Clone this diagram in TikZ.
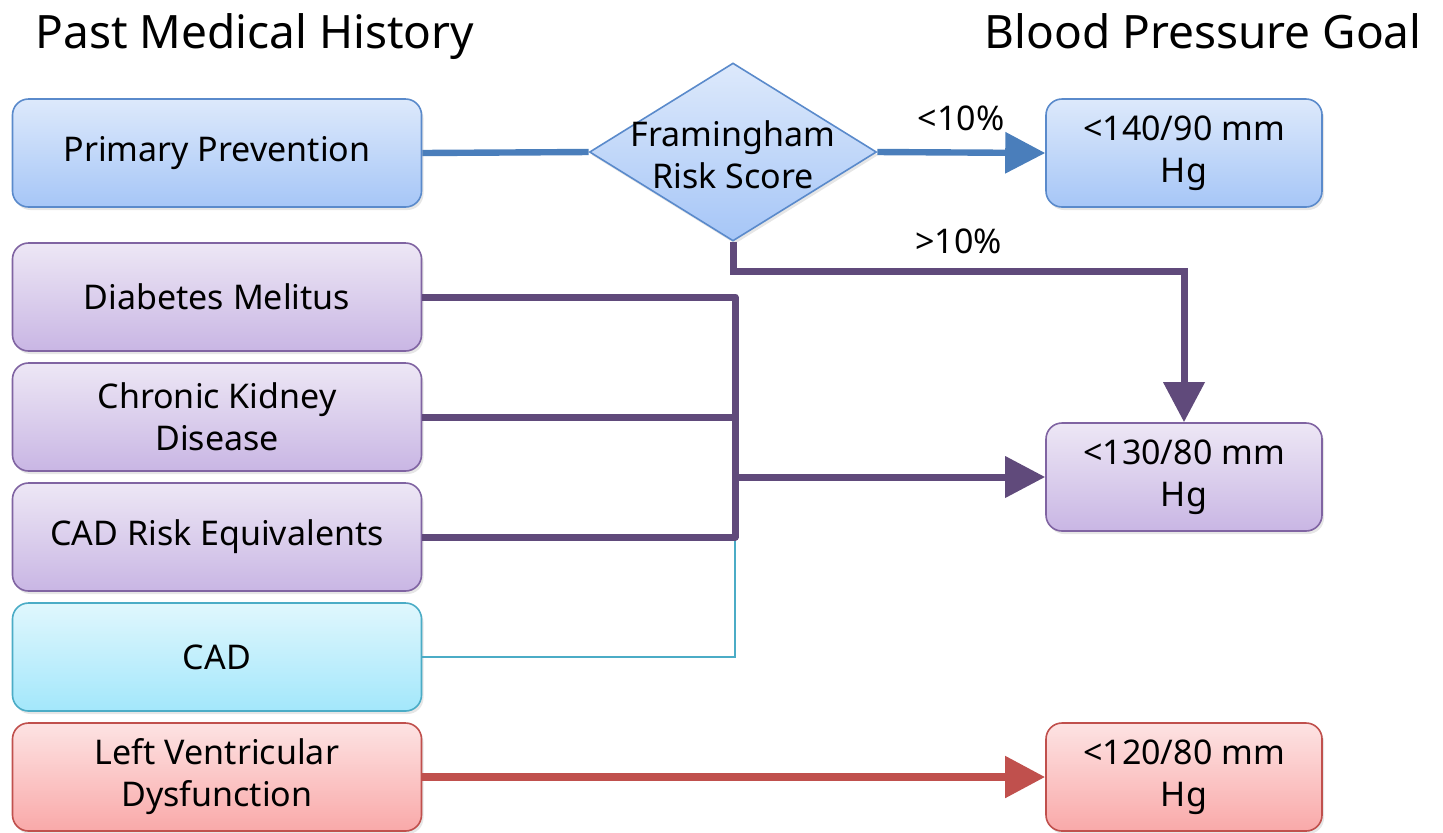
\documentclass[tikz,border=0pt]{standalone}
\usepackage{fontspec}
\setmainfont{Noto Sans}
\usetikzlibrary{shapes.geometric,arrows.meta,shadows}

\definecolor{lnblue}{HTML}{4A7EBB}
\definecolor{lnpurple}{HTML}{604A7B}
\definecolor{lnteal}{HTML}{4BACC6}
\definecolor{lnred}{HTML}{C0504D}
\definecolor{bdblue}{HTML}{5A8ACB}
\definecolor{bdpurple}{HTML}{8064A2}
\definecolor{bdteal}{HTML}{4BACC6}
\definecolor{bdred}{HTML}{C0504D}
\definecolor{flbluetop}{HTML}{DDE9FB}
\definecolor{flbluebot}{HTML}{A6C6F7}
\definecolor{flpurpletop}{HTML}{EDE7F5}
\definecolor{flpurplebot}{HTML}{C9B6E4}
\definecolor{flthealtop}{HTML}{E0F7FD}
\definecolor{flthealbot}{HTML}{A3E7FB}
\definecolor{flredtop}{HTML}{FDE3E3}
\definecolor{flredbot}{HTML}{F9A9A9}

\begin{document}
\begin{tikzpicture}[x=0.5pt,y=-0.5pt]
 \tikzset{hxbox/.style={rectangle, rounded corners=8pt, minimum width=204.5pt, minimum height=54pt,
   inner sep=2pt, align=center, font=\fontsize{17}{21}\selectfont, line width=0.8pt,
   drop shadow={opacity=0.2, shadow xshift=1pt, shadow yshift=-1.5pt}},
  goalbox/.style={hxbox, minimum width=138pt},
  bluebox/.style={draw=bdblue, top color=flbluetop, bottom color=flbluebot},
  purplebox/.style={draw=bdpurple, top color=flpurpletop, bottom color=flpurplebot},
  tealbox/.style={draw=bdteal, top color=flthealtop, bottom color=flthealbot},
  redbox/.style={draw=bdred, top color=flredtop, bottom color=flredbot},
  title/.style={inner sep=0pt, font=\fontsize{23}{27}\selectfont},
  tag/.style={text=black, font=\fontsize{17}{21}\selectfont},
  thickln/.style={line width=3.5pt},
  tip/.style={-{Triangle[length=20pt,width=20pt]}}}
 \useasboundingbox (0,0) rectangle (1443,832);

 \node[title, anchor=base west] (pmh) at (35,48) {Past Medical History};
 \node[title, anchor=base east] (bpg) at (1422,48) {Blood Pressure Goal};

 % past medical history
 \node[hxbox, bluebox] (pp) at (217,153) {Primary Prevention};
 \node[hxbox, purplebox] (dm) at (217,297) {Diabetes Melitus};
 \node[hxbox, purplebox] (ckd) at (217,417) {Chronic Kidney\\Disease};
 \node[hxbox, purplebox] (cre) at (217,537) {CAD Risk Equivalents};
 \node[hxbox, tealbox] (cad) at (217,657) {CAD};
 \node[hxbox, redbox] (lvd) at (217,777) {Left Ventricular\\Dysfunction};

 % goals
 \node[goalbox, bluebox] (g140) at (1184,153) {<140/90 mm\\Hg};
 \node[goalbox, purplebox] (g130) at (1184,477) {<130/80 mm\\Hg};
 \node[goalbox, redbox] (g120) at (1184,777) {<120/80 mm\\Hg};

 \node[diamond, bluebox, line width=0.8pt, minimum width=143.5pt, minimum height=89pt, inner sep=0pt,
   drop shadow={opacity=0.2, shadow xshift=1pt, shadow yshift=-1.5pt}] (frs) at (733,152) {};
 \node[tag, align=center] (frstxt) at (733,155) {Framingham\\Risk Score};

 \coordinate (bus) at (735,477);

 \draw[lnblue, line width=3.2pt] (pp.east) -- (frs.west);
 \draw[lnblue, line width=3.2pt, tip] (frs.east) -- node[tag, above=6pt] (lt10) {<10\%} (g140.west);
 \draw[lnpurple, thickln, tip] (frs.south) -- ++(0,30) -| node[tag, pos=0.25, above=4pt] (gt10) {>10\%} (g130.north);

 \draw[lnteal, line width=1.4pt] (cad.east) -| (cre.east -| bus);
 \draw[lnpurple, thickln, line join=round] (dm.east) -| (bus) |- (cre.east);
 \draw[lnpurple, thickln] (ckd.east) -- (ckd.east -| bus);
 \draw[lnpurple, thickln, tip] (bus) -- (g130.west);

 \draw[lnred, line width=4pt, tip] (lvd.east) -- (g120.west);
\end{tikzpicture}
\end{document}
